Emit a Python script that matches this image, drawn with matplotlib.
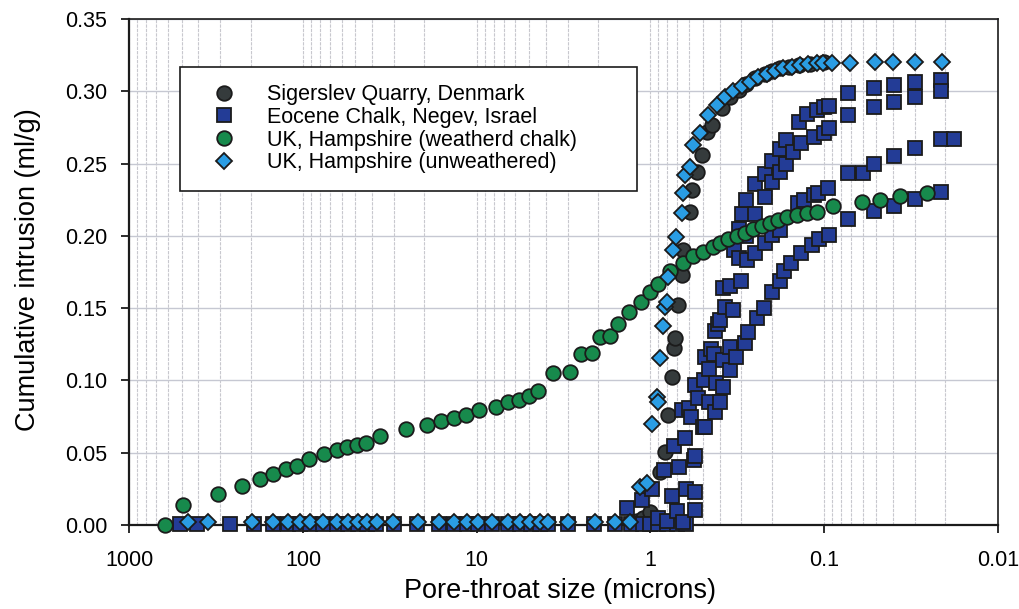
import numpy as np
import matplotlib.pyplot as plt
from matplotlib.ticker import FixedLocator, LogLocator, NullFormatter

# =========================
# DATA
# =========================

# Sigerslev Quarry, Denmark
sigerslev_x = [1.2, 1.1, 1.005, 0.88, 0.824, 0.789, 0.754, 0.731, 0.721, 0.69, 0.66,
               0.647, 0.592, 0.578, 0.541, 0.507, 0.474, 0.444, 0.389, 0.35, 0.31,
               0.28, 0.25, 0.22, 0.2, 0.18, 0.16, 0.14, 0.12, 0.10]
sigerslev_y = [0.003, 0.005, 0.009, 0.0369, 0.0507, 0.0761, 0.1026, 0.1222, 0.1291,
               0.1522, 0.1729, 0.190, 0.2167, 0.2317, 0.2443, 0.2559, 0.272, 0.2766,
               0.2882, 0.296, 0.301, 0.305, 0.309, 0.312, 0.314, 0.316, 0.317, 0.318,
               0.319, 0.320]

# Eocene Chalk, Negev, Israel (several samples, one legend entry)
eocene_base_x = [511, 409, 263, 191, 148, 122, 104, 91, 77, 64, 55, 48, 43, 38, 30, 22,
                 16.4, 13.6, 11.4, 9.8, 8.2, 6.6, 5.6, 4.9, 4.3, 3.9, 3.0, 2.1, 1.6,
                 1.3, 1.1, 1.0, 0.9, 0.8, 0.7, 0.62]
eocene_base_y = [0.001] * len(eocene_base_x)

eocene_1_x = [1.36, 1.12, 0.98, 0.83, 0.73, 0.66, 0.60, 0.553, 0.486, 0.45, 0.425, 0.41,
              0.38, 0.33, 0.31, 0.295, 0.28, 0.25, 0.22, 0.20, 0.18, 0.165, 0.14, 0.125,
              0.11, 0.10, 0.094, 0.0726, 0.0517, 0.0394, 0.030, 0.0213]
eocene_1_y = [0.012, 0.017, 0.025, 0.038, 0.055, 0.0795, 0.081, 0.097, 0.116, 0.122,
              0.134, 0.139, 0.164, 0.19, 0.205, 0.215, 0.225, 0.236, 0.243, 0.252, 0.26,
              0.266, 0.279, 0.284, 0.287, 0.289, 0.29, 0.2986, 0.302, 0.3043, 0.3066,
              0.3078]

eocene_2_x = [0.9, 0.75, 0.68, 0.63, 0.58, 0.53, 0.49, 0.46, 0.43, 0.40, 0.372, 0.35,
              0.31, 0.28, 0.25, 0.22, 0.2, 0.18, 0.165, 0.15, 0.135, 0.115, 0.1, 0.094,
              0.0726, 0.0517, 0.0394, 0.030, 0.0213]
eocene_2_y = [0.005, 0.02, 0.04, 0.06, 0.075, 0.088, 0.1, 0.108, 0.118, 0.142, 0.151,
              0.165, 0.185, 0.20, 0.215, 0.227, 0.2374, 0.244, 0.25, 0.258, 0.264,
              0.2686, 0.271, 0.2744, 0.2836, 0.2893, 0.2928, 0.2958, 0.3004]

eocene_3_x = [0.8, 0.7, 0.62, 0.56, 0.5, 0.46, 0.42, 0.38, 0.35, 0.335, 0.30, 0.279,
              0.25, 0.22, 0.20, 0.18, 0.142, 0.13, 0.115, 0.108, 0.0955, 0.0726, 0.0594,
              0.0517, 0.0394, 0.030, 0.0213, 0.0178]
eocene_3_y = [0.003, 0.01, 0.025, 0.045, 0.068, 0.085, 0.098, 0.114, 0.123, 0.1487,
              0.169, 0.183, 0.188, 0.195, 0.2006, 0.204, 0.2225, 0.2248, 0.228, 0.2298,
              0.2329, 0.2432, 0.2432, 0.2497, 0.2552, 0.2605, 0.2667, 0.2667]

eocene_4_x = [0.65, 0.553, 0.553, 0.553, 0.486, 0.425, 0.398, 0.383, 0.35, 0.32, 0.286,
              0.273, 0.2435, 0.222, 0.20, 0.18, 0.17, 0.156, 0.135, 0.118, 0.107, 0.094,
              0.0726, 0.0517, 0.0394, 0.030, 0.0213]
eocene_4_y = [0.002, 0.0104, 0.023, 0.048, 0.068, 0.0784, 0.0853, 0.0957, 0.107, 0.1164,
              0.1257, 0.1337, 0.143, 0.15, 0.161, 0.169, 0.176, 0.181, 0.188, 0.1936,
              0.198, 0.2006, 0.212, 0.2174, 0.2206, 0.2253, 0.2305]

# UK, Hampshire (weatherd chalk)
weathered_x = [622, 492, 307, 225, 178, 148, 125, 108, 92, 75.7, 63.9, 56, 49, 43.5, 36,
               25.5, 19.4, 16.1, 13.5, 11.5, 9.73, 7.77, 6.58, 5.69, 4.98, 4.42, 3.62,
               2.90, 2.52, 2.18, 1.95, 1.71, 1.53, 1.32, 1.14, 1.005, 0.90, 0.77, 0.646,
               0.566, 0.496, 0.434, 0.397, 0.356, 0.318, 0.285, 0.256, 0.229, 0.205,
               0.184, 0.164, 0.144, 0.126, 0.110, 0.0886, 0.0607, 0.0476, 0.0365, 0.0257]
weathered_y = [0.0, 0.0138, 0.0214, 0.0272, 0.0316, 0.0351, 0.0385, 0.041, 0.0456, 0.049,
               0.0519, 0.0537, 0.0553, 0.0569, 0.0618, 0.0664, 0.0692, 0.0719, 0.0738,
               0.0761, 0.0795, 0.0814, 0.0849, 0.0864, 0.0894, 0.0927, 0.1049, 0.106,
               0.1183, 0.1188, 0.130, 0.1307, 0.139, 0.147, 0.1544, 0.161, 0.167, 0.176,
               0.181, 0.186, 0.189, 0.1925, 0.1952, 0.1976, 0.1999, 0.2022, 0.2045,
               0.2068, 0.2091, 0.211, 0.2128, 0.2144, 0.2156, 0.2167, 0.2206, 0.2236,
               0.2248, 0.2275, 0.2298]

# UK, Hampshire (unweathered)
unweathered_x = [457, 351, 197, 148, 122, 104, 91.2, 77.2, 64, 54.8, 48.1, 43, 37.7, 30.2,
                 21.7, 16.4, 13.6, 11.4, 9.8, 8.2, 6.58, 5.64, 4.93, 4.32, 3.87, 2.97,
                 2.08, 1.60, 1.31, 1.15, 1.05, 0.982, 0.92, 0.90, 0.88, 0.843, 0.824,
                 0.806, 0.789, 0.741, 0.713, 0.661, 0.652, 0.632, 0.592, 0.566, 0.518,
                 0.464, 0.415, 0.372, 0.333, 0.298, 0.267, 0.239, 0.214, 0.192, 0.172,
                 0.154, 0.138, 0.123, 0.110, 0.101, 0.0903, 0.071, 0.0509, 0.040, 0.030,
                 0.021]
unweathered_y = [0.002] * 29 + [
    0.0265, 0.0288, 0.0699, 0.0887, 0.0853, 0.1153, 0.1376, 0.151, 0.1544, 0.1717,
    0.190, 0.199, 0.2156, 0.2298, 0.242, 0.2478, 0.2628, 0.2709, 0.2836, 0.2905,
    0.2962, 0.3004, 0.3036, 0.3066, 0.3096, 0.3119, 0.314, 0.3159, 0.317, 0.3181,
    0.3188, 0.3193, 0.3193, 0.3193, 0.3197, 0.32, 0.3204, 0.3204, 0.3204]

x_ticks = [1000, 100, 10, 1, 0.1, 0.01]
x_tick_labels = ["1000", "100", "10", "1", "0.1", "0.01"]
y_ticks = [0.0, 0.05, 0.10, 0.15, 0.20, 0.25, 0.30, 0.35]

LABELS = [
    "Sigerslev Quarry, Denmark",
    "Eocene Chalk, Negev, Israel",
    "UK, Hampshire (weatherd chalk)",
    "UK, Hampshire (unweathered)",
]

# =========================
# PLOT
# =========================

plt.rcParams["font.family"] = ["Liberation Sans", "DejaVu Sans"]

fig = plt.figure(figsize=(10.2, 6.09), dpi=100)
ax = fig.add_axes([0.1268, 0.1379, 0.8514, 0.8309])

edge = "#1b1b1b"
common = dict(linestyle="none", markeredgecolor=edge, markeredgewidth=1.3, clip_on=False)

eocene_x = eocene_base_x + eocene_1_x + eocene_2_x + eocene_3_x + eocene_4_x
eocene_y = eocene_base_y + eocene_1_y + eocene_2_y + eocene_3_y + eocene_4_y

ax.plot(sigerslev_x, sigerslev_y, marker="o", ms=10.5, color="#353b3c",
        label=LABELS[0], zorder=3, **common)
ax.plot(eocene_x, eocene_y, marker="s", ms=9.5, color="#233c96",
        label=LABELS[1], zorder=4, **common)
ax.plot(weathered_x, weathered_y, marker="o", ms=10.5, color="#178a4c",
        label=LABELS[2], zorder=5, **common)
ax.plot(unweathered_x, unweathered_y, marker="D", ms=8.5, color="#2a9de4",
        label=LABELS[3], zorder=6, **common)

ax.set_xscale("log")
ax.set_xlim(1000, 0.01)
ax.set_ylim(0, 0.35)

ax.xaxis.set_major_locator(FixedLocator(x_ticks))
ax.set_xticklabels(x_tick_labels)
ax.xaxis.set_minor_locator(LogLocator(base=10, subs=np.arange(2, 10), numticks=50))
ax.xaxis.set_minor_formatter(NullFormatter())
ax.set_yticks(y_ticks)
ax.set_yticklabels([f"{v:.2f}" for v in y_ticks])

ax.tick_params(axis="both", which="major", direction="out", length=6, width=1.3,
               labelsize=15.5, color="#1b1b1b")
ax.tick_params(axis="x", which="major", pad=12)
ax.tick_params(axis="y", which="major", pad=10)
ax.tick_params(axis="x", which="minor", length=0)

ax.grid(True, axis="y", which="major", color="#c6c8d2", linewidth=1.0)
ax.grid(True, axis="x", which="both", color="#c8c8ce", linewidth=0.8,
        linestyle=(0, (3, 1)))
ax.set_axisbelow(True)

for side in ["left", "bottom"]:
    ax.spines[side].set_linewidth(1.6)
for side in ["top", "right"]:
    ax.spines[side].set_linewidth(1.2)
for sp in ax.spines.values():
    sp.set_color("#1b1b1b")

ax.set_xlabel("Pore-throat size (microns)", fontsize=19.5)
ax.set_ylabel("Cumulative intrusion (ml/g)", fontsize=19.5)
ax.xaxis.set_label_coords(0.496, -0.104)
ax.yaxis.set_label_coords(-0.102, 0.504)

leg = ax.legend(loc="upper left", bbox_to_anchor=(0.0584, 0.5, 0.526, 0.405),
                mode="expand", borderaxespad=0, fontsize=15.5, frameon=True,
                fancybox=False, framealpha=1, edgecolor="#1b1b1b", numpoints=1,
                borderpad=0.8, labelspacing=0.08, handlelength=2.5,
                handletextpad=0.75)
leg.get_frame().set_linewidth(1.2)
leg.set_zorder(10)

fig.savefig("out.png", dpi=100)
